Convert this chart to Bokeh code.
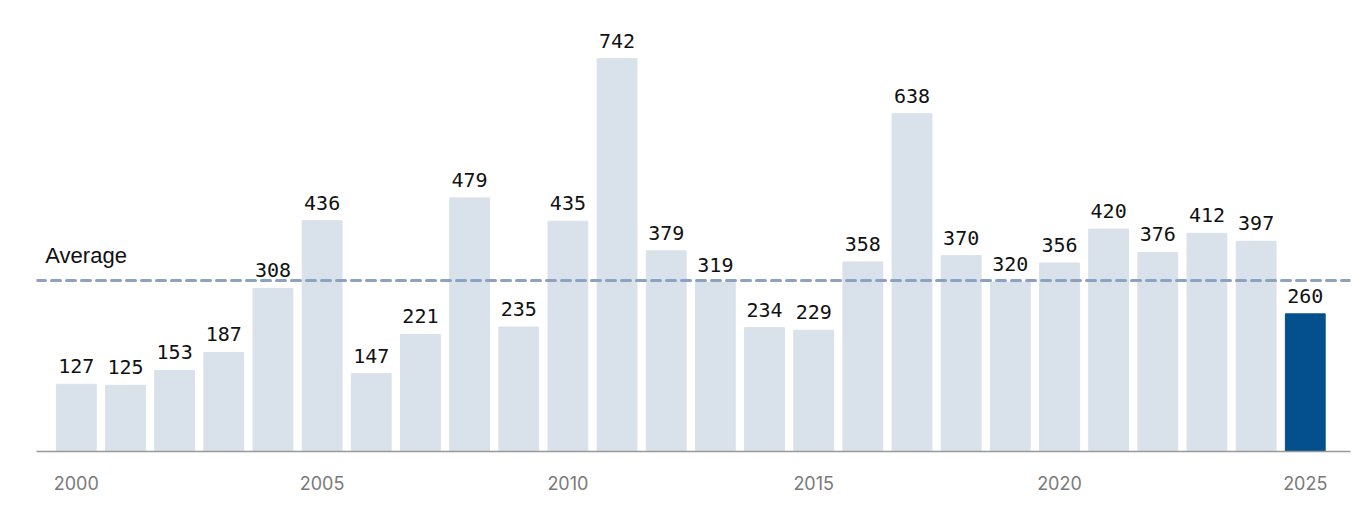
from bokeh.plotting import figure
from bokeh.models import ColumnDataSource, FixedTicker, Span, Label
from bokeh.core.properties import value
from bokeh.embed import file_html
from bokeh.resources import INLINE

years = list(range(2000, 2026))
counts = [127, 125, 153, 187, 308, 436, 147, 221, 479, 235, 435, 742, 379,
          319, 234, 229, 358, 638, 370, 320, 356, 420, 376, 412, 397, 260]
average = 323
tick_years = [2000, 2005, 2010, 2015, 2020, 2025]

colors = ["#d9e1ea"] * (len(years) - 1) + ["#03508c"]
labels = [str(c) for c in counts]
src = ColumnDataSource(dict(x=years, top=counts, color=colors, label=labels))

p = figure(width=1363, height=501, output_backend="svg", toolbar_location=None,
           x_range=(1999.19, 2025.92), y_range=(0, 814),
           min_border_left=36, min_border_right=13, min_border_top=20,
           min_border_bottom=50)
p.outline_line_color = None
p.xgrid.visible = False
p.ygrid.visible = False
p.yaxis.visible = False
p.background_fill_color = "white"
p.border_fill_color = "white"

p.vbar(x="x", top="top", width=0.81, color="color", source=src)

avg_line = Span(location=average, dimension="width", line_color="#8da2c0",
                line_width=3, line_dash="9 6", line_cap="round")
p.add_layout(avg_line)

p.text(x="x", y="top", text="label", source=src, text_align="center",
       text_baseline="alphabetic", y_offset=-18,
       text_font=value("DejaVu Sans Mono"), text_font_size="20px",
       text_color="#111111")

lab = Label(x=1999.37, y=average, text="Average", y_offset=12,
            text_font="Liberation Sans", text_font_size="22px",
            text_color="#111111", text_baseline="bottom")
p.add_layout(lab)

ax = p.xaxis[0]
ax.ticker = FixedTicker(ticks=tick_years)
ax.major_tick_line_color = None
ax.minor_tick_line_color = None
ax.axis_line_color = "#999999"
ax.axis_line_width = 1.5
ax.major_label_text_font = "Inter"
ax.major_label_text_font_size = "18px"
ax.major_label_text_color = "#7a7a7a"
ax.major_label_standoff = 18

open("out.html", "w").write(file_html(p, INLINE))
